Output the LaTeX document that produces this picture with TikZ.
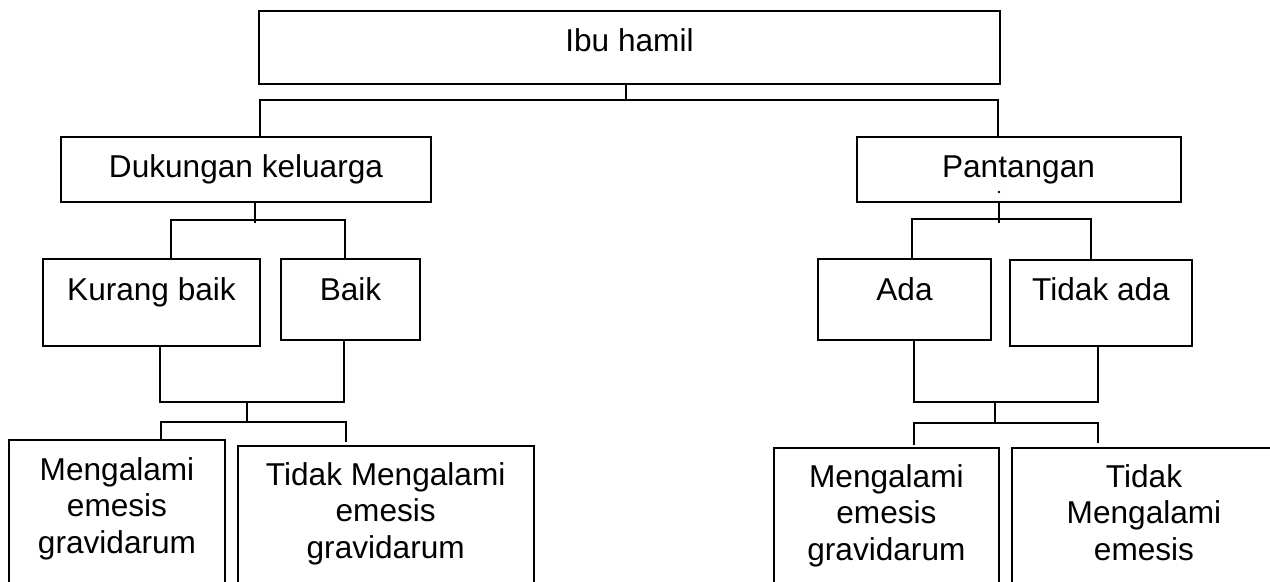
\documentclass[tikz,border=0pt]{standalone}
\usepackage{fontspec}
\setmainfont{Liberation Sans}
\usetikzlibrary{fit}
\begin{document}
\begin{tikzpicture}[x=0.5pt,y=-0.5pt,
  box/.style={draw=black, line width=1pt, inner sep=0pt, rectangle},
  lbl/.style={font=\fontsize{15.8}{18.25}\selectfont, inner sep=0pt, align=center},
  conn/.style={draw=black, line width=1pt}]
\useasboundingbox (0,0) rectangle (1270,582);
\clip (0,0) rectangle (1270,582);

% boxes
\node[box, fit={(259,11) (1000,84)}] (ibu) {};
\node[box, fit={(61,137) (431,202)}] (duk) {};
\node[box, fit={(856.5,137) (1181,202)}] (pan) {};
\node[box, fit={(43,259) (260,346)}] (kur) {};
\node[box, fit={(281,259) (420,340)}] (baik) {};
\node[box, fit={(818,259) (991,340)}] (ada) {};
\node[box, fit={(1010,260) (1192,346)}] (tada) {};
\node[box, fit={(9.4,440) (224.5,610)}] (m1) {};
\node[box, fit={(237.5,446) (534,610)}] (t1) {};
\node[box, fit={(773.7,448) (999,610)}] (m2) {};
\node[box, fit={(1012,448) (1276,610)}] (t2) {};

% texts
\node[lbl, anchor=base] (ibuT) at (629.5,52) {Ibu hamil};
\node[lbl, anchor=base] (dukT) at (246,178) {Dukungan keluarga};
\node[lbl, anchor=base] (panT) at (1018.5,178) {Pantangan};
\node[lbl, anchor=base] (kurT) at (151.5,301) {Kurang baik};
\node[lbl, anchor=base] (baikT) at (350.5,301) {Baik};
\node[lbl, anchor=base] (adaT) at (904.5,301) {Ada};
\node[lbl, anchor=base] (tadaT) at (1101,301) {Tidak ada};
\node[lbl] (m1T) at (117,508.5) {Mengalami\\emesis\\gravidarum};
\node[lbl] (t1T) at (385.7,513.5) {Tidak Mengalami\\emesis\\gravidarum};
\node[lbl] (m2T) at (886.4,515.5) {Mengalami\\emesis\\gravidarum};
\node[lbl] (t2T) at (1144,512.4) {Tidak\\Mengalami\\emesis};

\fill (999,192) circle[radius=0.7pt];

% level 1
\coordinate (j0) at (626,100.5);
\coordinate (a1) at (260,100.5);
\coordinate (a2) at (998,100.5);
\draw[conn] (ibu.south -| j0) -- (j0);
\draw[conn] (duk.north -| a1) -- (a1) -- (a2) -- (pan.north -| a2);

% level 2 left
\coordinate (b0) at (255,223);
\coordinate (b1) at (171,220);
\coordinate (b2) at (345,220);
\draw[conn] (duk.south -| b0) -- (b0);
\draw[conn] (kur.north -| b1) -- (b1) -- (b2) -- (baik.north -| b2);

% level 2 right
\coordinate (c0) at (998.6,223);
\coordinate (c1) at (911.6,219.5);
\coordinate (c2) at (1091,219.5);
\draw[conn] (pan.south -| c0) -- (c0);
\draw[conn] (ada.north -| c1) -- (c1) -- (c2) -- (tada.north -| c2);

% level 3 left
\coordinate (d1) at (160,402);
\coordinate (d2) at (344,402);
\coordinate (d0) at (247,402);
\coordinate (e0) at (247,422);
\coordinate (e1) at (161,422);
\coordinate (e2) at (346,422);
\coordinate (f2) at (346,442);
\draw[conn] (kur.south -| d1) -- (d1) -- (d2) -- (baik.south -| d2);
\draw[conn] (d0) -- (e0);
\draw[conn] (m1.north -| e1) -- (e1) -- (e2) -- (f2);

% level 3 right
\coordinate (g1) at (914,402);
\coordinate (g2) at (1098,402);
\coordinate (g0) at (995,402);
\coordinate (h0) at (995,423);
\coordinate (h1) at (914,423);
\coordinate (h2) at (1098,423);
\coordinate (k1) at (914,445);
\coordinate (k2) at (1098,443);
\draw[conn] (ada.south -| g1) -- (g1) -- (g2) -- (tada.south -| g2);
\draw[conn] (g0) -- (h0);
\draw[conn] (k1) -- (h1) -- (h2) -- (k2);
\end{tikzpicture}
\end{document}
